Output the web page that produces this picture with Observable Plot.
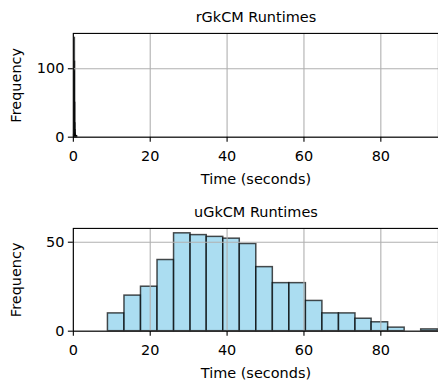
<!DOCTYPE html>
<html>
<head>
<meta charset="utf-8">
<script src="https://cdn.jsdelivr.net/npm/d3@7"></script>
<script src="https://cdn.jsdelivr.net/npm/@observablehq/plot@0.6"></script>
<style>
  html, body { margin: 0; padding: 0; background: #fff; overflow: hidden; width: 438px; height: 383px; }
  #c svg { display: block; }
</style>
</head>
<body>
<div id="c"></div>
<script>
// ---- data ----
const titles = ["rGkCM Runtimes", "uGkCM Runtimes"];
const xLabel = "Time (seconds)";
const yLabel = "Frequency";
const xTicks = [0, 20, 40, 60, 80];
const rYTicks = [0, 100];
const uYTicks = [0, 50];

// rGkCM histogram (20 bins, all below ~1 s)
const rEdges = [0.20, 0.24, 0.28, 0.32, 0.36, 0.40, 0.44, 0.48, 0.52, 0.56, 0.60,
                0.64, 0.68, 0.72, 0.76, 0.80, 0.84, 0.88, 0.92, 0.96, 1.00];
const rCounts = [3, 12, 40, 95, 145, 110, 50, 20, 10, 5, 3, 2, 1, 1, 0, 1, 0, 1, 0, 1];

// uGkCM histogram (20 bins)
const uEdges = [9.0, 13.3, 17.6, 21.9, 26.2, 30.5, 34.7, 39.0, 43.3, 47.6, 51.9,
                56.2, 60.5, 64.8, 69.1, 73.4, 77.6, 81.9, 86.2, 90.5, 94.8];
const uCounts = [10, 20, 25, 40, 55, 54, 53, 52, 49, 36, 27, 27, 17, 10, 10, 7, 5, 2, 0, 1];

const toBins = (edges, counts) => counts.map((c, i) => ({x1: edges[i], x2: edges[i + 1], c}));

const FONT = "DejaVu Sans, sans-serif";
const FS = 14.5;

function panel({title, bins, yTicks, yMax, height, marginTop, marginBottom}) {
  return Plot.plot({
    width: 439,
    height,
    marginLeft: 73,
    marginRight: 0,
    marginTop,
    marginBottom,
    style: {fontFamily: FONT, fontSize: FS + "px", color: "black", background: "white", overflow: "visible"},
    x: {domain: [0, 95]},
    y: {domain: [0, yMax]},
    marks: [
      Plot.rect(bins, {
        x1: "x1", x2: "x2", y1: 0, y2: "c",
        fill: "skyblue", fillOpacity: 0.7,
        stroke: "black", strokeOpacity: 0.7, strokeWidth: 1.5
      }),
      Plot.gridX(xTicks, {stroke: "#b0b0b0", strokeOpacity: 1, strokeWidth: 1.1}),
      Plot.gridY(yTicks, {stroke: "#b0b0b0", strokeOpacity: 1, strokeWidth: 1.1}),
      Plot.frame({stroke: "black", strokeWidth: 1.1}),
      Plot.axisX(xTicks, {tickSize: 5, tickPadding: 9, strokeWidth: 1.1, label: null, tickFormat: d => String(d), fontSize: FS}),
      Plot.axisY(yTicks, {tickSize: 5, tickPadding: 4, strokeWidth: 1.1, label: null, tickFormat: d => String(d), fontSize: FS}),
      Plot.text([xLabel], {frameAnchor: "bottom", dy: 42.5, text: d => d, fontSize: FS, lineAnchor: "middle"}),
      Plot.text([title], {frameAnchor: "top", dy: -16, text: d => d, fontSize: FS, lineAnchor: "middle"}),
      Plot.text([yLabel], {frameAnchor: "left", dx: -57, rotate: -90, textAnchor: "middle", text: d => d, fontSize: FS, lineAnchor: "middle"})
    ]
  });
}

const c = document.getElementById("c");
c.append(panel({title: titles[0], bins: toBins(rEdges, rCounts), yTicks: rYTicks, yMax: 151.6,
                height: 195, marginTop: 33, marginBottom: 58}));
c.append(panel({title: titles[1], bins: toBins(uEdges, uCounts), yTicks: uYTicks, yMax: 57.75,
                height: 188, marginTop: 33, marginBottom: 52}));
</script>
</body>
</html>
